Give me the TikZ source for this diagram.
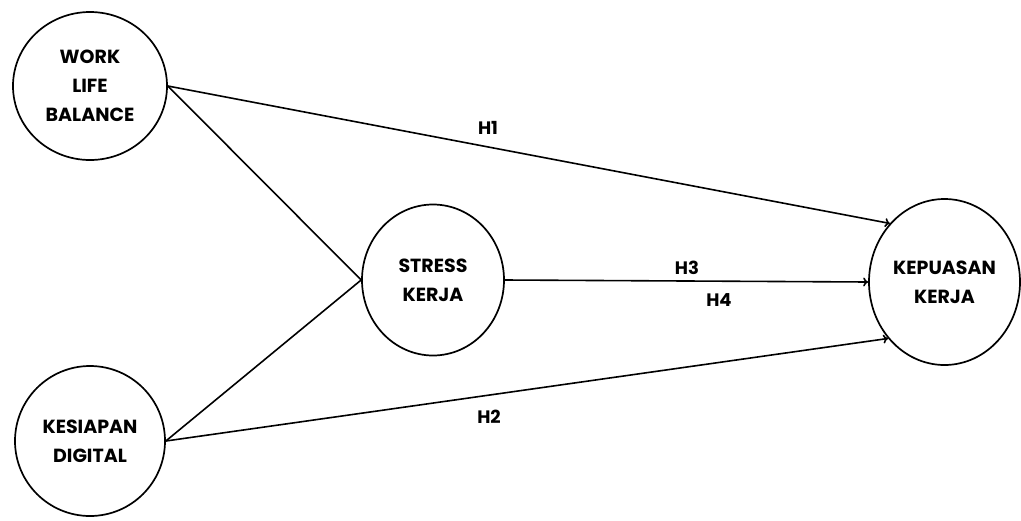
\documentclass[tikz,border=0pt]{standalone}
\usepackage{fontspec}
\setmainfont{Poppins}
\usetikzlibrary{shapes.geometric,arrows.meta}
\begin{document}
\begin{tikzpicture}[x=1pt,y=-1pt,
  var/.style={draw, ellipse, line width=1.7pt, inner sep=0pt, align=center,
    font=\fontsize{19}{29}\selectfont\bfseries},
  link/.style={line width=1.6pt},
  arr/.style={line width=1.6pt, -{To[length=5pt,width=9pt]}},
  hlab/.style={font=\fontsize{18}{20}\selectfont\bfseries, inner sep=0pt}]
\useasboundingbox (0,0) rectangle (1021,520);
\node[var, minimum width=154pt, minimum height=148pt] (wlb) at (90,86) {WORK\\LIFE\\BALANCE};
\node[var, minimum width=150pt, minimum height=150pt] (ksp) at (90,441) {KESIAPAN\\DIGITAL};
\node[var, minimum width=142pt, minimum height=151pt] (sk) at (433,280) {STRESS\\KERJA};
\node[var, minimum width=151pt, minimum height=166pt] (kk) at (944.5,282) {KEPUASAN\\KERJA};
\draw[link] (wlb.east) -- (sk.west);
\draw[link] (ksp.east) -- (sk.west);
\draw[arr] (wlb.east) -- (kk.133.7);
\draw[arr] (ksp.east) -- (kk.225.8);
\draw[arr] (sk.east) -- (kk.west);
\node[hlab] (h1) at (488,128) {H1};
\node[hlab] (h2) at (489,417) {H2};
\node[hlab] (h3) at (687,268) {H3};
\node[hlab] (h4) at (719,300) {H4};
\end{tikzpicture}
\end{document}
